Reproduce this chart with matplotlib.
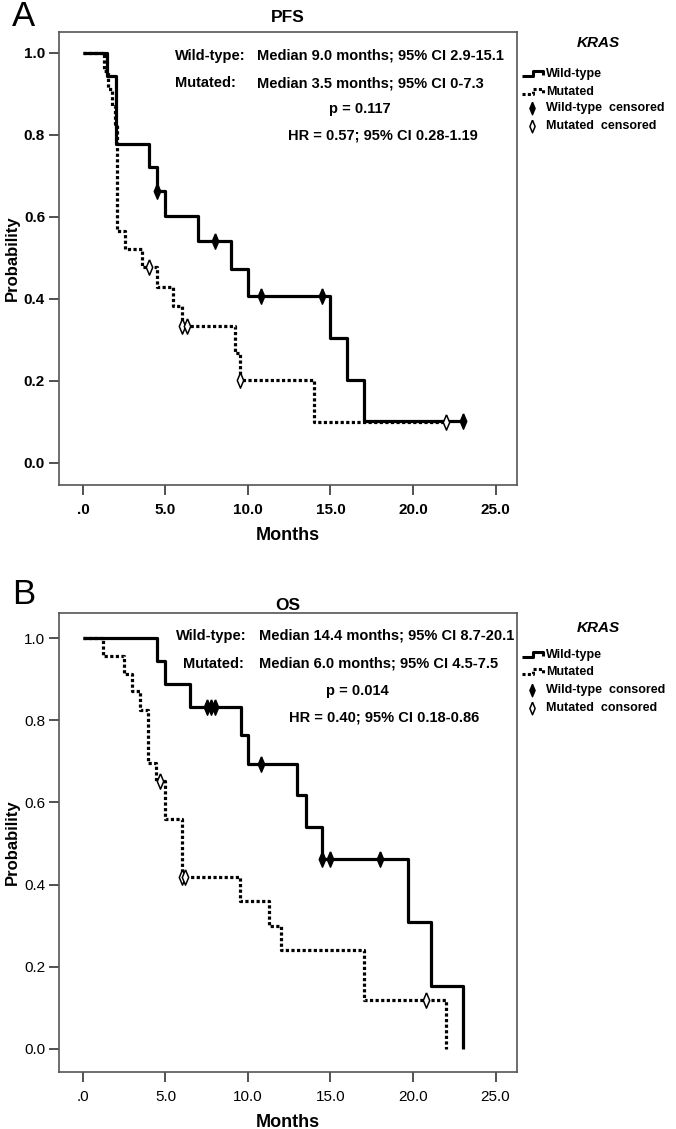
import matplotlib
matplotlib.use("Agg")
import matplotlib.pyplot as plt

plt.rcParams['font.family'] = ['Liberation Sans', 'DejaVu Sans']

W, H = 676, 1129

# ---- Panel A: PFS ----
pfs_wt_t = [1.45, 2.0, 4.0, 4.5, 5.0, 7.0, 9.0, 10.0, 15.0, 16.0, 17.0]
pfs_wt_s = [0.944, 0.778, 0.722, 0.662, 0.602, 0.542, 0.474, 0.406, 0.305, 0.203, 0.102]
pfs_wt_end = 23.0
pfs_wt_cens_t = [4.5, 8.0, 10.8, 14.5, 23.0]
pfs_wt_cens_s = [0.662, 0.542, 0.406, 0.406, 0.102]

pfs_mu_t = [1.3, 1.5, 1.75, 1.95, 2.05, 2.55, 3.55, 4.5, 5.45, 6.0, 9.2, 9.5, 14.0]
pfs_mu_s = [0.957, 0.913, 0.870, 0.826, 0.565, 0.522, 0.478, 0.430, 0.382, 0.335, 0.268, 0.201, 0.100]
pfs_mu_end = 22.0
pfs_mu_cens_t = [4.0, 6.0, 6.3, 9.5, 22.0]
pfs_mu_cens_s = [0.478, 0.335, 0.335, 0.201, 0.100]

# ---- Panel B: OS ----
os_wt_t = [4.5, 5.0, 6.5, 9.6, 10.0, 13.0, 13.5, 14.5, 19.7, 21.1, 23.0]
os_wt_s = [0.944, 0.889, 0.833, 0.764, 0.694, 0.617, 0.540, 0.463, 0.309, 0.154, 0.0]
os_wt_end = 23.0
os_wt_cens_t = [7.5, 7.75, 8.0, 10.8, 14.5, 15.0, 18.0]
os_wt_cens_s = [0.833, 0.833, 0.833, 0.694, 0.463, 0.463, 0.463]

os_mu_t = [1.2, 2.5, 2.95, 3.45, 3.95, 4.45, 5.0, 6.0, 9.5, 11.25, 12.0, 17.0, 22.0]
os_mu_s = [0.957, 0.913, 0.870, 0.826, 0.696, 0.652, 0.559, 0.419, 0.359, 0.299, 0.240, 0.120, 0.0]
os_mu_end = 22.0
os_mu_cens_t = [4.65, 6.0, 6.2, 20.8]
os_mu_cens_s = [0.652, 0.419, 0.419, 0.120]

xticks = [0, 5, 10, 15, 20, 25]
xtick_labels = [".0", "5.0", "10.0", "15.0", "20.0", "25.0"]
yticks = [0.0, 0.2, 0.4, 0.6, 0.8, 1.0]
ytick_labels = ["0.0", "0.2", "0.4", "0.6", "0.8", "1.0"]

# narrow SPSS-like diamond
DIAMOND = [(0, 1), (0.42, 0), (0, -1), (-0.42, 0), (0, 1)]


def fx(x):
    return x / W


def fy(y):
    return 1 - y / H


def km(ax, t, s, end, ct, cs, dotted, hollow):
    xs = [0] + list(t) + [end]
    ys = [1.0] + list(s) + [s[-1]]
    if dotted:
        ax.step(xs, ys, where="post", color="black", lw=2.3,
                linestyle=(0, (1, 0.75)), dash_capstyle="butt")
    else:
        ax.step(xs, ys, where="post", color="black", lw=2.3,
                solid_capstyle="butt")
    ax.plot(ct, cs, linestyle="none", marker=DIAMOND, markersize=11,
            markeredgewidth=1.1, markeredgecolor="black",
            markerfacecolor="white" if hollow else "black", zorder=5)


def panel(box, ylim, tick_bold, title, title_y):
    l, t, r, b = box
    ax = fig.add_axes([fx(l), fy(b), fx(r) - fx(l), fy(t) - fy(b)])
    ax.set_xlim(-1.45, 26.3)
    ax.set_ylim(*ylim)
    ax.set_xticks(xticks)
    ax.set_xticklabels(xtick_labels)
    ax.set_yticks(yticks)
    ax.set_yticklabels(ytick_labels)
    fw = "bold" if tick_bold else "normal"
    for lab in ax.get_xticklabels() + ax.get_yticklabels():
        lab.set_fontweight(fw)
        lab.set_fontsize(11)
    ax.tick_params(axis="both", direction="out", length=7, width=1.2,
                   color="#333333", pad=3)
    ax.tick_params(axis="x", pad=6)
    for sp in ax.spines.values():
        sp.set_color("#555555")
        sp.set_linewidth(1.2)
    ax.set_xlabel("Months", fontsize=13, fontweight="bold", labelpad=7)
    ax.set_ylabel("Probability", fontsize=12, fontweight="bold", labelpad=3)
    fig.text(fx((l + r) / 2), fy(title_y), title, ha="center",
             va="center", fontsize=12.5, fontweight="bold")
    return ax


fig = plt.figure(figsize=(W / 100, H / 100), dpi=100)

axA = panel((59, 32, 517, 485), (-0.054, 1.051), True, "PFS", 18)
km(axA, pfs_mu_t, pfs_mu_s, pfs_mu_end, pfs_mu_cens_t, pfs_mu_cens_s, True, True)
km(axA, pfs_wt_t, pfs_wt_s, pfs_wt_end, pfs_wt_cens_t, pfs_wt_cens_s, False, False)

axB = panel((59, 613, 517, 1072), (-0.056, 1.061), False, "OS", 605)
km(axB, os_mu_t, os_mu_s, os_mu_end, os_mu_cens_t, os_mu_cens_s, True, True)
km(axB, os_wt_t, os_wt_s, os_wt_end, os_wt_cens_t, os_wt_cens_s, False, False)

# panel letters
fig.text(fx(12), fy(16), "A", fontsize=25, ha="left", va="center")
fig.text(fx(12), fy(595), "B", fontsize=25, ha="left", va="center")

# statistics text
stat_fs = 10.5
fig.text(fx(175), fy(56), "Wild-type:", fontsize=stat_fs, fontweight="bold", va="center")
fig.text(fx(257), fy(56), "Median 9.0 months; 95% CI 2.9-15.1", fontsize=stat_fs,
         fontweight="bold", va="center")
fig.text(fx(175), fy(83), "Mutated:", fontsize=stat_fs, fontweight="bold", va="center")
fig.text(fx(257), fy(83), "Median 3.5 months; 95% CI 0-7.3", fontsize=stat_fs,
         fontweight="bold", va="center")
fig.text(fx(360), fy(109), "p = 0.117", fontsize=stat_fs, fontweight="bold",
         ha="center", va="center")
fig.text(fx(383), fy(135), "HR = 0.57; 95% CI 0.28-1.19", fontsize=stat_fs,
         fontweight="bold", ha="center", va="center")

fig.text(fx(176), fy(636), "Wild-type:", fontsize=stat_fs, fontweight="bold", va="center")
fig.text(fx(259), fy(636), "Median 14.4 months; 95% CI 8.7-20.1", fontsize=stat_fs,
         fontweight="bold", va="center")
fig.text(fx(183), fy(664), "Mutated:", fontsize=stat_fs, fontweight="bold", va="center")
fig.text(fx(259), fy(664), "Median 6.0 months; 95% CI 4.5-7.5", fontsize=stat_fs,
         fontweight="bold", va="center")
fig.text(fx(357), fy(691), "p = 0.014", fontsize=stat_fs, fontweight="bold",
         ha="center", va="center")
fig.text(fx(384), fy(718), "HR = 0.40; 95% CI 0.18-0.86", fontsize=stat_fs,
         fontweight="bold", ha="center", va="center")

# legends, drawn in a pixel-space overlay
lg = fig.add_axes([0, 0, 1, 1])
lg.set_xlim(0, W)
lg.set_ylim(H, 0)
lg.axis("off")


def legend(y_title, rows, cens_word):
    lg.text(598, y_title, "KRAS", fontsize=11, fontweight="bold", style="italic",
            ha="center", va="center")
    y1, y2, y3, y4 = rows
    gx = [522, 533, 533, 543, 543]
    lg.plot(gx, [y1 + 2, y1 + 2, y1 - 3, y1 - 3, y1 + 1], color="black", lw=2.2,
            solid_capstyle="butt")
    lg.plot(gx, [y2 + 2, y2 + 2, y2 - 3, y2 - 3, y2 + 1], color="black", lw=2.2,
            linestyle=(0, (1, 0.75)), dash_capstyle="butt")
    lg.text(546, y1, "Wild-type", fontsize=9, fontweight="bold", va="center")
    lg.text(546, y2, "Mutated", fontsize=9, fontweight="bold", va="center")
    lg.plot([532], [y3], marker=DIAMOND, markersize=9, color="black", linestyle="none")
    lg.plot([532], [y4], marker=DIAMOND, markersize=9, markerfacecolor="white",
            markeredgecolor="black", markeredgewidth=1.1, linestyle="none")
    lg.text(546, y3, "Wild-type  " + cens_word, fontsize=9, fontweight="bold", va="center")
    lg.text(546, y4, "Mutated  " + cens_word, fontsize=9, fontweight="bold", va="center")


legend(43, (74, 92, 108, 126), "censored")
legend(628, (655, 672, 690, 708), "consored")

fig.savefig("out.png", dpi=100)
